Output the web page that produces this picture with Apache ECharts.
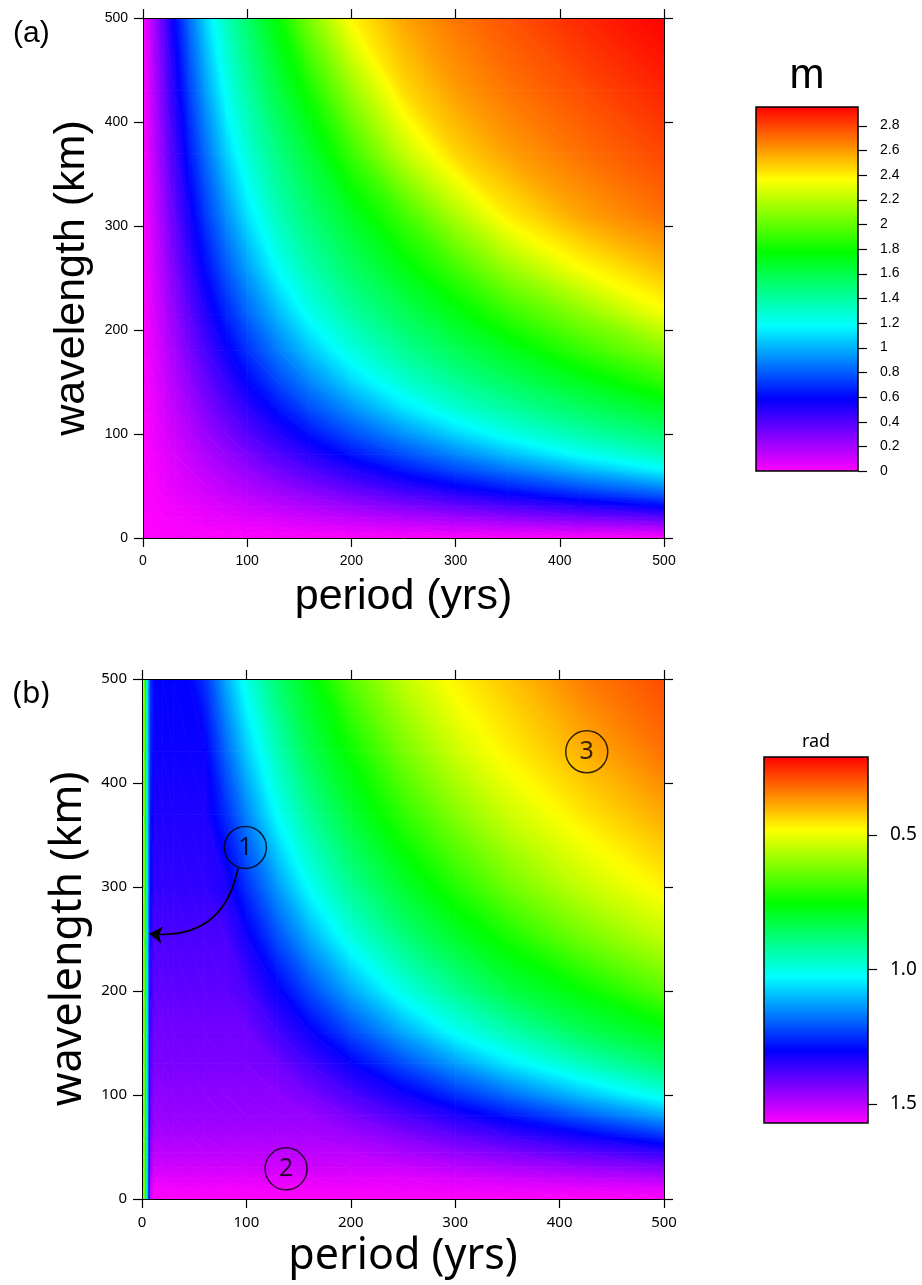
<!DOCTYPE html>
<html>
<head>
<meta charset="utf-8">
<script src="https://cdn.jsdelivr.net/npm/echarts@6/dist/echarts.min.js"></script>
<style>
html,body{margin:0;padding:0;background:#ffffff;}
#chart{width:922px;height:1285px;}
</style>
</head>
<body>
<div id="chart"></div>
<script>
// ---------------- DATA ----------------
// Panel (a): m, rows follow wavelengthsA, columns follow periodsA
const periodsA = [0, 5, 10, 20, 30, 45, 60, 80, 100, 130, 160, 200, 250, 300, 350, 420, 500];
const wavelengthsA = [0, 5, 10, 15, 20, 30, 40, 50, 65, 80, 100, 125, 150, 180, 215, 260, 310, 370, 430, 500];
const mRows = [
  [0, 0, 0, 0, 0, 0, 0, 0, 0, 0, 0, 0, 0, 0, 0, 0, 0],
  [0, 0.001, 0.002, 0.004, 0.006, 0.009, 0.011, 0.015, 0.019, 0.025, 0.03, 0.038, 0.048, 0.057, 0.067, 0.08, 0.095],
  [0, 0.002, 0.004, 0.008, 0.011, 0.017, 0.023, 0.03, 0.038, 0.049, 0.061, 0.076, 0.095, 0.114, 0.133, 0.16, 0.19],
  [0, 0.003, 0.006, 0.011, 0.017, 0.026, 0.034, 0.046, 0.057, 0.074, 0.091, 0.114, 0.143, 0.171, 0.20, 0.242, 0.29],
  [0, 0.004, 0.008, 0.015, 0.023, 0.034, 0.046, 0.061, 0.076, 0.099, 0.122, 0.152, 0.19, 0.23, 0.27, 0.326, 0.39],
  [0, 0.006, 0.011, 0.023, 0.034, 0.051, 0.068, 0.091, 0.114, 0.148, 0.182, 0.23, 0.29, 0.35, 0.41, 0.494, 0.59],
  [0, 0.008, 0.015, 0.03, 0.046, 0.068, 0.091, 0.122, 0.152, 0.198, 0.246, 0.31, 0.39, 0.47, 0.55, 0.655, 0.77],
  [0, 0.01, 0.019, 0.038, 0.057, 0.086, 0.114, 0.152, 0.19, 0.25, 0.31, 0.39, 0.49, 0.59, 0.68, 0.802, 0.93],
  [0, 0.012, 0.025, 0.049, 0.074, 0.111, 0.148, 0.198, 0.25, 0.328, 0.406, 0.51, 0.635, 0.752, 0.858, 1.002, 1.164],
  [0, 0.015, 0.03, 0.061, 0.091, 0.137, 0.182, 0.246, 0.31, 0.406, 0.502, 0.626, 0.77, 0.898, 1.024, 1.194, 1.34],
  [0, 0.019, 0.038, 0.076, 0.114, 0.171, 0.23, 0.31, 0.39, 0.51, 0.626, 0.77, 0.93, 1.086, 1.226, 1.374, 1.51],
  [0, 0.024, 0.048, 0.095, 0.143, 0.215, 0.29, 0.39, 0.49, 0.635, 0.77, 0.93, 1.125, 1.283, 1.404, 1.548, 1.695],
  [0, 0.029, 0.057, 0.114, 0.171, 0.26, 0.35, 0.47, 0.59, 0.752, 0.898, 1.086, 1.283, 1.425, 1.548, 1.702, 1.875],
  [0, 0.034, 0.068, 0.137, 0.206, 0.314, 0.422, 0.566, 0.698, 0.879, 1.049, 1.249, 1.425, 1.57, 1.702, 1.884, 2.08],
  [0, 0.041, 0.082, 0.163, 0.248, 0.377, 0.506, 0.669, 0.818, 1.022, 1.212, 1.391, 1.566, 1.723, 1.879, 2.08, 2.33],
  [0, 0.049, 0.099, 0.198, 0.302, 0.458, 0.612, 0.796, 0.961, 1.198, 1.367, 1.54, 1.73, 1.92, 2.13, 2.36, 2.52],
  [0, 0.059, 0.118, 0.238, 0.362, 0.548, 0.72, 0.924, 1.117, 1.345, 1.503, 1.688, 1.913, 2.17, 2.40, 2.57, 2.69],
  [0, 0.07, 0.141, 0.286, 0.434, 0.649, 0.84, 1.074, 1.271, 1.478, 1.648, 1.90, 2.22, 2.46, 2.58, 2.69, 2.79],
  [0, 0.082, 0.163, 0.334, 0.506, 0.747, 0.955, 1.212, 1.391, 1.62, 1.82, 2.12, 2.44, 2.59, 2.68, 2.77, 2.87],
  [0, 0.095, 0.19, 0.39, 0.59, 0.85, 1.086, 1.34, 1.53, 1.78, 2.06, 2.38, 2.57, 2.68, 2.76, 2.86, 2.95]
];
const mRange = [0, 2.95];
const mTicks = [0, 0.2, 0.4, 0.6, 0.8, 1, 1.2, 1.4, 1.6, 1.8, 2, 2.2, 2.4, 2.6, 2.8];

// Panel (b): phase (rad), rows follow wavelengthsB, columns follow periodsB
const periodsB = [0, 1, 2, 3, 5, 8, 12, 20, 30, 45, 60, 80, 100, 130, 160, 200, 250, 300, 350, 420, 500];
const wavelengthsB = [0, 10, 20, 30, 45, 60, 80, 100, 130, 160, 200, 250, 300, 370, 430, 500];
const phaseRows = [
  [0.21, 0.27, 0.48, 0.74, 1.05, 1.52, 1.57, 1.57, 1.57, 1.57, 1.57, 1.57, 1.57, 1.57, 1.57, 1.57, 1.57, 1.57, 1.57, 1.57, 1.57],
  [0.21, 0.27, 0.48, 0.74, 1.05, 1.51, 1.56, 1.56, 1.56, 1.56, 1.56, 1.56, 1.56, 1.56, 1.56, 1.558, 1.555, 1.552, 1.549, 1.545, 1.54],
  [0.21, 0.27, 0.48, 0.74, 1.05, 1.49, 1.54, 1.54, 1.54, 1.54, 1.54, 1.54, 1.54, 1.54, 1.54, 1.54, 1.54, 1.53, 1.52, 1.506, 1.49],
  [0.21, 0.27, 0.48, 0.74, 1.05, 1.47, 1.52, 1.52, 1.52, 1.52, 1.52, 1.52, 1.52, 1.52, 1.52, 1.52, 1.515, 1.50, 1.485, 1.464, 1.44],
  [0.21, 0.27, 0.48, 0.74, 1.05, 1.45, 1.5, 1.5, 1.5, 1.5, 1.5, 1.5, 1.5, 1.5, 1.5, 1.5, 1.478, 1.455, 1.431, 1.393, 1.35],
  [0.21, 0.27, 0.48, 0.74, 1.05, 1.43, 1.48, 1.48, 1.48, 1.48, 1.48, 1.48, 1.48, 1.48, 1.48, 1.47, 1.44, 1.404, 1.368, 1.317, 1.25],
  [0.21, 0.27, 0.48, 0.74, 1.05, 1.41, 1.46, 1.46, 1.46, 1.46, 1.46, 1.46, 1.46, 1.46, 1.46, 1.428, 1.38, 1.332, 1.278, 1.203, 1.12],
  [0.21, 0.27, 0.48, 0.74, 1.05, 1.40, 1.45, 1.45, 1.45, 1.45, 1.45, 1.45, 1.45, 1.45, 1.428, 1.38, 1.32, 1.25, 1.185, 1.095, 1.0],
  [0.21, 0.27, 0.48, 0.74, 1.05, 1.38, 1.43, 1.43, 1.43, 1.43, 1.43, 1.43, 1.43, 1.417, 1.37, 1.306, 1.218, 1.133, 1.051, 0.959, 0.87],
  [0.21, 0.27, 0.48, 0.74, 1.05, 1.37, 1.42, 1.42, 1.42, 1.42, 1.42, 1.42, 1.42, 1.37, 1.312, 1.224, 1.12, 1.02, 0.947, 0.852, 0.777],
  [0.21, 0.27, 0.48, 0.74, 1.05, 1.35, 1.4, 1.4, 1.4, 1.4, 1.4, 1.4, 1.38, 1.306, 1.224, 1.12, 1.0, 0.91, 0.83, 0.755, 0.66],
  [0.21, 0.27, 0.48, 0.74, 1.05, 1.33, 1.38, 1.38, 1.38, 1.38, 1.38, 1.38, 1.32, 1.218, 1.12, 1.0, 0.89, 0.803, 0.735, 0.638, 0.55],
  [0.21, 0.27, 0.48, 0.74, 1.05, 1.30, 1.35, 1.35, 1.35, 1.35, 1.35, 1.332, 1.25, 1.133, 1.02, 0.91, 0.803, 0.72, 0.638, 0.547, 0.47],
  [0.21, 0.27, 0.48, 0.74, 1.05, 1.28, 1.33, 1.33, 1.33, 1.33, 1.33, 1.255, 1.159, 1.019, 0.917, 0.809, 0.705, 0.612, 0.536, 0.459, 0.39],
  [0.21, 0.27, 0.48, 0.74, 1.05, 1.26, 1.31, 1.31, 1.31, 1.31, 1.309, 1.193, 1.083, 0.948, 0.84, 0.744, 0.627, 0.537, 0.469, 0.40, 0.33],
  [0.21, 0.27, 0.48, 0.74, 1.05, 1.25, 1.3, 1.3, 1.3, 1.3, 1.25, 1.12, 1.0, 0.87, 0.777, 0.66, 0.55, 0.47, 0.42, 0.345, 0.29]
];
const phaseRange = [0.21, 1.571];
const phaseTicks = [0.5, 1.0, 1.5];

// Annotations of panel (b)
const markerLabels = ['1', '2', '3'];
const markerPeriods = [99, 138, 426];
const markerWavelengths = [338, 29, 430];
const arrowStart = [92, 318];
const arrowEnd = [7, 255];

// ---------------- STYLE HELPERS ----------------
const FONT_A = 'Liberation Sans, Arial, sans-serif';
const FONT_B = 'Noto Sans, Open Sans, sans-serif';

function hueColor(h) {
  h = Math.max(0, Math.min(300, h));
  const s = h / 60, i = Math.min(4, Math.floor(s)), f = s - i;
  let r, g, b;
  if (h >= 300) { r = 1; g = 0; b = 1; }
  else if (i === 0) { r = 1; g = f; b = 0; }
  else if (i === 1) { r = 1 - f; g = 1; b = 0; }
  else if (i === 2) { r = 0; g = 1; b = f; }
  else if (i === 3) { r = 0; g = 1 - f; b = 1; }
  else { r = f; g = 0; b = 1; }
  return 'rgb(' + Math.round(r * 255) + ',' + Math.round(g * 255) + ',' + Math.round(b * 255) + ')';
}
const colorA = v => hueColor(300 * (1 - (v - mRange[0]) / (mRange[1] - mRange[0])));
const colorB = v => hueColor(300 * (v - phaseRange[0]) / (phaseRange[1] - phaseRange[0]));

// one shaded triangle: colour varies linearly with the value between its three data nodes
function shadedTriangle(A, B, C, va, vb, vc, colorFn, span) {
  const det = (B[0] - A[0]) * (C[1] - A[1]) - (C[0] - A[0]) * (B[1] - A[1]);
  const vmin = Math.min(va, vb, vc), vmax = Math.max(va, vb, vc);
  let fill;
  if (Math.abs(det) < 1e-9 || vmax - vmin < 1e-6) {
    fill = colorFn((va + vb + vc) / 3);
  } else {
    const ga = ((vb - va) * (C[1] - A[1]) - (vc - va) * (B[1] - A[1])) / det;
    const gb = ((B[0] - A[0]) * (vc - va) - (C[0] - A[0]) * (vb - va)) / det;
    const g2 = ga * ga + gb * gb;
    const P = [A, B, C][[va, vb, vc].indexOf(vmin)];
    const d = (vmax - vmin) / g2;
    const n = Math.max(2, Math.min(40, Math.ceil((vmax - vmin) / span * 80)));
    const stops = [];
    for (let k = 0; k <= n; k++) stops.push({ offset: k / n, color: colorFn(vmin + (vmax - vmin) * k / n) });
    fill = new echarts.graphic.LinearGradient(P[0], P[1], P[0] + ga * d, P[1] + gb * d, stops, true);
  }
  return { type: 'polygon', shape: { points: [A, B, C] }, style: { fill: fill, stroke: fill, lineWidth: 0.8 } };
}

function fieldLayer(xs, ys, rows, colorFn, range, axisIdx) {
  const cells = [];
  for (let j = 0; j < ys.length - 1; j++) {
    for (let i = 0; i < xs.length - 1; i++) cells.push([xs[i], ys[j], i, j]);
  }
  const span = range[1] - range[0];
  return {
    type: 'custom', xAxisIndex: axisIdx, yAxisIndex: axisIdx, clip: true, silent: true, z: 1,
    data: cells,
    encode: { x: 0, y: 1 },
    renderItem: function (params, api) {
      const i = api.value(2), j = api.value(3);
      const p00 = api.coord([xs[i], ys[j]]), p10 = api.coord([xs[i + 1], ys[j]]);
      const p01 = api.coord([xs[i], ys[j + 1]]), p11 = api.coord([xs[i + 1], ys[j + 1]]);
      const v00 = rows[j][i], v10 = rows[j][i + 1], v01 = rows[j + 1][i], v11 = rows[j + 1][i + 1];
      return {
        type: 'group',
        children: [
          shadedTriangle(p00, p10, p01, v00, v10, v01, colorFn, span),
          shadedTriangle(p10, p11, p01, v10, v11, v01, colorFn, span)
        ]
      };
    }
  };
}

function colorbar(range, ticks, colorFn, axisIdx) {
  return {
    type: 'custom', xAxisIndex: axisIdx, yAxisIndex: axisIdx, silent: true, z: 3,
    data: [[0, range[0]]],
    renderItem: function (params, api) {
      const p0 = api.coord([0, range[0]]);
      const p1 = api.coord([1, range[1]]);
      const x = Math.min(p0[0], p1[0]), y = Math.min(p0[1], p1[1]);
      const w = Math.abs(p1[0] - p0[0]), h = Math.abs(p1[1] - p0[1]);
      const stops = [];
      const n = 60;
      for (let k = 0; k <= n; k++) {
        const v = range[0] + (range[1] - range[0]) * k / n;
        stops.push({ offset: Math.max(0, Math.min(1, (api.coord([0, v])[1] - y) / h)), color: colorFn(v) });
      }
      stops.sort((a, b) => a.offset - b.offset);
      const children = [{
        type: 'rect',
        shape: { x: x, y: y, width: w, height: h },
        style: { fill: new echarts.graphic.LinearGradient(0, 0, 0, 1, stops), stroke: '#000', lineWidth: 1.5 }
      }];
      ticks.forEach(t => {
        const py = Math.round(api.coord([1, t])[1]) + 0.5;
        children.push({ type: 'line', shape: { x1: x + w, y1: py, x2: x + w + 9, y2: py }, style: { stroke: '#000', lineWidth: 1.2 } });
      });
      return { type: 'group', children: children };
    }
  };
}

function mainAxis(kind, grid, position, font, fontSize, showLabels, name, nameGap) {
  return {
    type: 'value', gridIndex: grid, position: position, min: 0, max: 500, interval: 100, z: 10,
    axisLine: { show: true, onZero: false, lineStyle: { color: '#000', width: 1 } },
    axisTick: { show: true, inside: false, length: 9, lineStyle: { color: '#000', width: 1.2 } },
    axisLabel: { show: showLabels, color: '#000', fontFamily: font, fontSize: fontSize, margin: kind === 'x' ? 16 : 15 },
    splitLine: { show: false },
    name: name || '', nameLocation: 'middle', nameGap: nameGap || 0,
    nameTextStyle: { color: '#000', fontFamily: font, fontSize: 43 }
  };
}

const option = {
  animation: false,
  backgroundColor: '#ffffff',
  grid: [
    { outerBoundsMode: 'none', left: 143, top: 18, width: 521, height: 520 },
    { outerBoundsMode: 'none', left: 142, top: 679, width: 522, height: 520 },
    { outerBoundsMode: 'none', left: 756, top: 107, width: 102, height: 364 },
    { outerBoundsMode: 'none', left: 764, top: 757, width: 104, height: 366 }
  ],
  xAxis: [
    mainAxis('x', 0, 'bottom', FONT_A, 14, true, 'period (yrs)', 38),
    mainAxis('x', 0, 'top', FONT_A, 14, false),
    mainAxis('x', 1, 'bottom', FONT_B, 15, true, 'period (yrs)', 36),
    mainAxis('x', 1, 'top', FONT_B, 15, false),
    { type: 'value', gridIndex: 2, min: 0, max: 1, show: false },
    { type: 'value', gridIndex: 3, min: 0, max: 1, show: false }
  ],
  yAxis: [
    mainAxis('y', 0, 'left', FONT_A, 14, true, 'wavelength (km)', 44),
    mainAxis('y', 0, 'right', FONT_A, 14, false),
    mainAxis('y', 1, 'left', FONT_B, 15, true, 'wavelength (km)', 45),
    mainAxis('y', 1, 'right', FONT_B, 15, false),
    {
      type: 'value', gridIndex: 2, position: 'right', min: mRange[0], max: mRange[1], z: 10,
      axisLine: { show: false }, axisTick: { show: false },
      axisLabel: { show: true, customValues: mTicks, color: '#000', fontFamily: FONT_A, fontSize: 14, margin: 22 },
      splitLine: { show: false }
    },
    {
      type: 'value', gridIndex: 3, position: 'right', min: phaseRange[0], max: phaseRange[1], inverse: true, z: 10,
      axisLine: { show: false }, axisTick: { show: false },
      axisLabel: { show: true, customValues: phaseTicks, color: '#000', fontFamily: FONT_B, fontSize: 19, margin: 22,
        formatter: v => Number(v).toFixed(1) },
      splitLine: { show: false }
    }
  ],
  series: [
    fieldLayer(periodsA, wavelengthsA, mRows, colorA, mRange, 0),
    fieldLayer(periodsB, wavelengthsB, phaseRows, colorB, phaseRange, 2),
    colorbar(mRange, mTicks, colorA, 4),
    colorbar(phaseRange, phaseTicks, colorB, 5),
    {
      type: 'scatter', xAxisIndex: 2, yAxisIndex: 2, z: 6, silent: true,
      symbol: 'circle', symbolSize: 42,
      itemStyle: { color: 'rgba(0,0,0,0)', borderColor: '#000', borderWidth: 1.5 },
      label: { show: true, position: 'inside', color: '#000', fontFamily: FONT_B, fontSize: 25,
        formatter: p => markerLabels[p.dataIndex] },
      data: markerPeriods.map((p, i) => [p, markerWavelengths[i]])
    },
    {
      type: 'lines', coordinateSystem: 'cartesian2d', xAxisIndex: 2, yAxisIndex: 2, z: 6, silent: true,
      symbol: ['none', 'arrow'], symbolSize: 13,
      lineStyle: { color: '#000', width: 1.6, curveness: 0.45, opacity: 1 },
      data: [{ coords: [arrowStart, arrowEnd] }]
    }
  ],
  graphic: [
    { type: 'text', left: 13, top: 19, style: { text: '(a)', fontFamily: FONT_A, fontSize: 30, fill: '#000' } },
    { type: 'text', left: 13, top: 679, style: { text: '(b)', fontFamily: FONT_B, fontSize: 30, fill: '#000' } },
    { type: 'text', x: 807, y: 76, style: { text: 'm', fontFamily: FONT_A, fontSize: 42, fill: '#000', align: 'center', verticalAlign: 'middle' } },
    { type: 'text', x: 816, y: 742, style: { text: 'rad', fontFamily: FONT_B, fontSize: 18, fill: '#000', align: 'center', verticalAlign: 'middle' } }
  ]
};

const chart = echarts.init(document.getElementById('chart'), null, { renderer: 'canvas' });
chart.setOption(option);
</script>
</body>
</html>
